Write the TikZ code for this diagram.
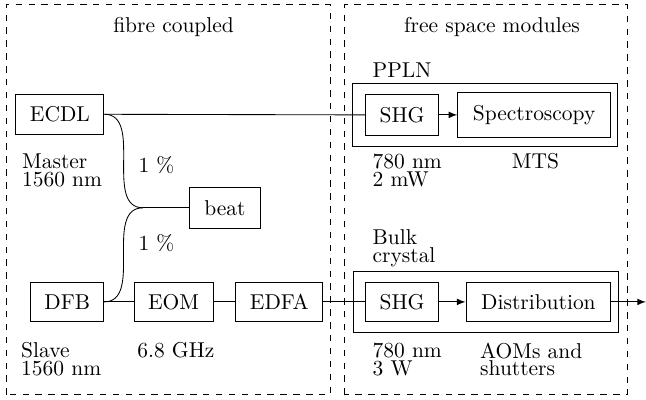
\documentclass[tikz,border=0pt]{standalone}
\usepackage{tikz}
\usetikzlibrary{calc}

\begin{document}
\begin{tikzpicture}[box/.style={draw,minimum height=0.65cm,inner sep=0pt},lbl/.style={align=left,anchor=north west,inner sep=0pt,font=\fontsize{10}{8.3}\selectfont}]
\useasboundingbox (0,0) rectangle (10.57,6.53);
\draw[dashed](0.10,0.07) rectangle (5.40,6.45);
\draw[dashed](5.64,0.07) rectangle (10.26,6.45);
\node (fibre) at (2.84,5.99) [anchor=base]{fibre coupled};
\node (free) at (8.05,5.99) [anchor=base]{free space modules};
\node (ecdl) at (0.98,4.66) [box,minimum width=1.44cm]{ECDL};
\node (beat) at (3.68,3.13) [box,minimum width=1.15cm,minimum height=0.67cm]{beat};
\node (dfb) at (1.10,1.59) [box,minimum width=1.19cm]{DFB};
\node (eom) at (2.84,1.59) [box,minimum width=1.29cm]{EOM};
\node (edfa) at (4.57,1.59) [box,minimum width=1.42cm]{EDFA};
\coordinate (split) at (2.34,3.13);
\node (ppln) at (7.94,4.65) [box,minimum width=4.34cm,minimum height=1.03cm]{};
\node (shgA) at (6.58,4.65) [box,minimum width=1.19cm,minimum height=0.67cm]{SHG};
\node (spec) at (8.74,4.65) [box,minimum width=2.50cm,minimum height=0.74cm]{Spectroscopy};
\node (bulk) at (7.95,1.59) [box,minimum width=4.35cm,minimum height=1.01cm]{};
\node (shgB) at (6.58,1.59) [box,minimum width=1.19cm]{SHG};
\node (dist) at (8.81,1.59) [box,minimum width=2.37cm]{Distribution};
\coordinate (out) at (10.57,1.59);
\draw (ecdl.east)--(shgA.west);
\draw (ecdl.east) to[out=0,in=180] (split);
\draw (dfb.east) to[out=0,in=180] (split);
\draw (split)--(beat.west);
\draw (dfb)--(eom)--(edfa)--(shgB);
\draw[-latex](shgA)--(spec);
\draw[-latex](shgB)--(dist);
\draw[-latex](dist.east)--(out);
\node (master) at (0.355,4.02) [lbl]{Master\\1560 nm};
\node (slave) at (0.34,0.93) [lbl]{Slave\\1560 nm};
\node (pctA) at (2.26,3.98) [lbl]{1 \%};
\node (pctB) at (2.26,2.70) [lbl]{1 \%};
\node (ghz) at (2.24,0.93) [lbl]{6.8 GHz};
\node (pplnlbl) at (6.09,5.51) [lbl]{PPLN};
\node (wlA) at (6.09,4.02) [lbl]{780 nm\\2 mW};
\node (mts) at (8.76,4.02) [lbl,anchor=north]{MTS};
\node (bulklbl) at (6.09,2.78) [lbl]{Bulk\\crystal};
\node (wlB) at (6.09,0.93) [lbl]{780 nm\\3 W};
\node (aom) at (7.85,0.93) [lbl]{AOMs and\\shutters};
\end{tikzpicture}
\end{document}
